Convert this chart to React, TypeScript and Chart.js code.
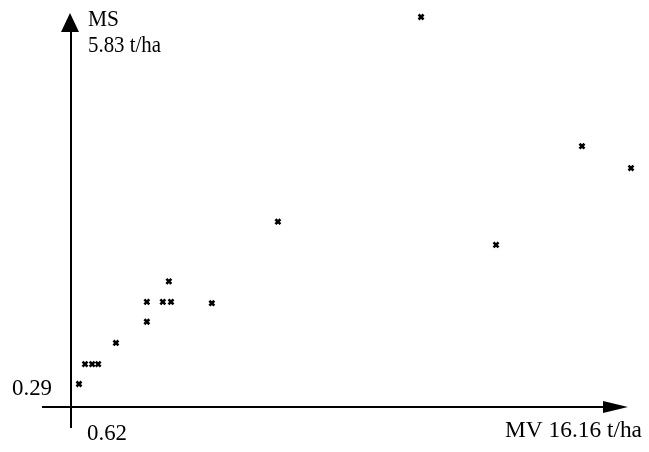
import React, { useEffect, useRef } from "react";
import { Chart, registerables } from "chart.js";

Chart.register(...registerables);

// MV (t/ha) values of each observation
const mvValues = [0.62, 0.79, 0.99, 1.16, 1.66, 2.53, 2.53, 2.98, 3.21, 3.15, 4.36, 6.22, 10.25, 12.36, 14.78, 16.16];
// MS (t/ha) values of each observation
const msValues = [0.29, 0.59, 0.59, 0.59, 0.91, 1.23, 1.53, 1.53, 1.53, 1.84, 1.51, 2.74, 5.83, 2.39, 3.88, 3.55];

const yAxisTitle = "MS";
const yMaxLabel = "5.83 t/ha";
const yMinLabel = "0.29";
const xMinLabel = "0.62";
const xAxisTitle = "MV 16.16 t/ha";

const X_MIN = 0.395;
const X_MAX = 16.16;
const Y_MIN = -0.057;
const Y_MAX = 5.83;

const axesPlugin = {
  id: "arrowAxes",
  afterDraw(chart: any) {
    const ctx = chart.ctx as CanvasRenderingContext2D;
    const xs = chart.scales.x;
    const ys = chart.scales.y;
    const ox = xs.getPixelForValue(X_MIN);
    const oy = ys.getPixelForValue(Y_MIN);
    ctx.save();
    ctx.strokeStyle = "#000";
    ctx.fillStyle = "#000";
    ctx.lineWidth = 2;
    // y axis
    ctx.beginPath();
    ctx.moveTo(ox, oy + 21);
    ctx.lineTo(ox, 30);
    ctx.stroke();
    ctx.beginPath();
    ctx.moveTo(ox - 1, 13);
    ctx.lineTo(ox - 10, 32);
    ctx.lineTo(ox + 8, 32);
    ctx.closePath();
    ctx.fill();
    // x axis
    ctx.beginPath();
    ctx.moveTo(ox - 29, oy);
    ctx.lineTo(606, oy);
    ctx.stroke();
    ctx.beginPath();
    ctx.moveTo(628, oy);
    ctx.lineTo(603, oy - 6);
    ctx.lineTo(603, oy + 6);
    ctx.closePath();
    ctx.fill();

    ctx.font = "23px 'Liberation Serif', 'Times New Roman', serif";
    ctx.textBaseline = "alphabetic";
    ctx.textAlign = "left";
    const draw = (t: string, x: number, y: number, w: number) => {
      const m = ctx.measureText(t).width;
      ctx.save();
      ctx.translate(x, y);
      ctx.scale(w / m, 1);
      ctx.fillText(t, 0, 0);
      ctx.restore();
    };
    draw(yAxisTitle, 88, 26, 31);
    draw(yMaxLabel, 88, 52, 73);
    draw(yMinLabel, 12, 395, 40);
    draw(xMinLabel, 87, 440, 40);
    draw(xAxisTitle, 505, 437, 137);
    ctx.restore();
  },
};

export default function App() {
  const ref = useRef<HTMLCanvasElement | null>(null);
  useEffect(() => {
    if (!ref.current) return;
    const data = mvValues.map((x, i) => ({ x, y: msValues[i] }));
    const chart = new Chart(ref.current, {
      type: "scatter",
      data: {
        datasets: [
          {
            data,
            pointStyle: "crossRot",
            pointRadius: 3.5,
            borderWidth: 2.6,
            borderColor: "#000",
            backgroundColor: "#000",
            clip: false as any,
          },
        ],
      },
      options: {
        responsive: false,
        animation: false,
        layout: { padding: { left: 71, right: 18, top: 17, bottom: 45 } },
        plugins: { legend: { display: false }, tooltip: { enabled: false } },
        scales: {
          x: { type: "linear", min: X_MIN, max: X_MAX, display: false },
          y: { type: "linear", min: Y_MIN, max: Y_MAX, display: false },
        },
      },
      plugins: [axesPlugin],
    });
    return () => chart.destroy();
  }, []);
  return (
    <div style={{ position: "fixed", left: 0, top: 0, width: 649, height: 452, background: "#fff" }}>
      <canvas ref={ref} width={649} height={452} style={{ display: "block" }} />
    </div>
  );
}
